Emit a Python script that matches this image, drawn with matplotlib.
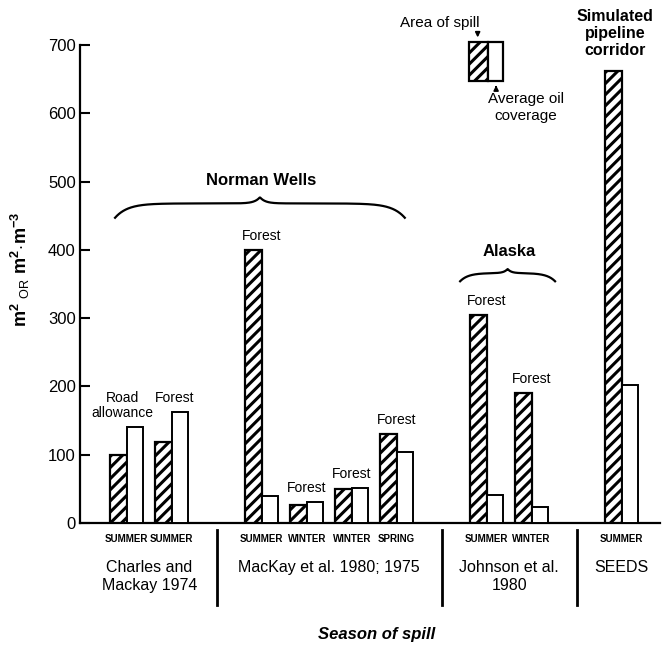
import matplotlib
matplotlib.use("Agg")
import matplotlib.pyplot as plt
from matplotlib.patches import Rectangle
import numpy as np

# Oil spill area vs. average oil coverage, by study and season
groups = ["Charles and\nMackay 1974", "MacKay et al. 1980; 1975", "Johnson et al.\n1980", "SEEDS"]
seasons = [["SUMMER", "SUMMER"],
           ["SUMMER", "WINTER", "WINTER", "SPRING"],
           ["SUMMER", "WINTER"],
           ["SUMMER"]]
spill_area = [100, 119, 400, 26, 50, 131, 304, 190, 662]
oil_coverage = [141, 163, 40, 31, 51, 104, 41, 24, 202]
site_notes = ["Road\nallowance", "Forest", "Forest", "Forest", "Forest", "Forest",
              "Forest", "Forest", ""]
yticks = [0, 100, 200, 300, 400, 500, 600, 700]

plt.rcParams['font.family'] = ['Liberation Sans', 'DejaVu Sans']
plt.rcParams['mathtext.fontset'] = 'custom'
plt.rcParams['mathtext.rm'] = 'Liberation Sans'
plt.rcParams['mathtext.bf'] = 'Liberation Sans:bold'
plt.rcParams['hatch.linewidth'] = 2.2

# pair positions, one empty slot between studies
pos = []
bounds = []
x = 0
for g, s in enumerate(seasons):
    for _ in s:
        pos.append(x)
        x += 1
    bounds.append(x)
    x += 1
pos = np.array(pos)
season_labels = [s for grp in seasons for s in grp]

fig = plt.figure(figsize=(6.62, 6.54), dpi=100)
ax = fig.add_axes([0.1208, 0.2003, 0.876, 0.7309])

w = 0.367
ax.bar(pos - w / 2, spill_area, w, color='white', edgecolor='black', hatch='///',
       linewidth=1.6, zorder=3)
ax.bar(pos + w / 2, oil_coverage, w, color='white', edgecolor='black',
       linewidth=1.4, zorder=3)

# site notes above each pair (first two nudged apart, as in the original)
nudge = [-3, 2, 0, 0, 0, 0, 0, 0, 0]
for p, a, c, note, dx in zip(pos, spill_area, oil_coverage, site_notes, nudge):
    if note:
        ax.annotate(note, (p, max(a, c)), xytext=(dx, 5), textcoords='offset points',
                    ha='center', va='bottom', fontsize=10, linespacing=1.05)

ax.set_xlim(-1.04, 11.85)
ax.set_ylim(0, 700)
ax.set_yticks(yticks)
ax.set_xticks([])
ax.tick_params(axis='y', direction='in', length=7, width=1.5, labelsize=12, pad=3)
for side in ['top', 'right']:
    ax.spines[side].set_visible(False)
ax.spines['left'].set_linewidth(1.6)
ax.spines['bottom'].set_linewidth(1.6)

ax.set_ylabel(r'$\mathbf{m^2}$ $_{\mathrm{OR}}$ $\mathbf{m^2\!\cdot\! m^{-3}}$', fontsize=13)
ax.yaxis.set_label_coords(-0.082, 0.53)

# season labels, study names and separators below the axis
tr = ax.get_xaxis_transform()
for p, s in zip(pos, season_labels):
    ax.text(p, -0.034, s, transform=tr, ha='center', va='center', fontsize=7,
            fontweight='bold')
start = 0
for g, name in enumerate(groups):
    idx = range(start, start + len(seasons[g]))
    mid = np.mean(pos[list(idx)])
    ax.text(mid, -0.078, name, transform=tr, ha='center', va='top', fontsize=11.5,
            linespacing=1.25)
    start += len(seasons[g])
for b in bounds[:-1]:
    ax.plot([b, b], [-0.015, -0.172], transform=tr, color='black', lw=2, clip_on=False)

ax.text(0.512, -0.234, 'Season of spill', transform=ax.transAxes, ha='center',
        va='center', fontsize=12, fontweight='bold', fontstyle='italic')


def draw_brace(x0, x1, y, droop, rise, wend, wtip):
    xs = np.linspace(x0, x1, 600)
    xm = (x0 + x1) / 2
    d = np.abs(xs - xm)
    half = (x1 - x0) / 2
    ys = y - droop * np.exp(-(half - d) / wend) + rise * np.exp(-d / wtip)
    ax.plot(xs, ys, color='black', lw=1.6, clip_on=False, zorder=4)


draw_brace(-0.26, 6.18, 468, 21, 9, 0.28, 0.12)
ax.text(2.99, 502, 'Norman Wells', ha='center', va='center', fontsize=12,
        fontweight='bold')
draw_brace(7.41, 9.52, 366, 12, 6, 0.18, 0.08)
ax.text(8.5, 397, 'Alaska', ha='center', va='center', fontsize=12, fontweight='bold')

ax.text(10.85, 681, 'Simulated\npipeline\ncorridor', ha='center', va='bottom',
        fontsize=11.5, fontweight='bold', linespacing=1.15)

# key
ax.add_patch(Rectangle((7.61, 647), 0.41, 58, facecolor='white', edgecolor='black',
                       hatch='///', lw=1.6, clip_on=False))
ax.add_patch(Rectangle((8.02, 647), 0.35, 58, facecolor='white', edgecolor='black',
                       lw=1.6, clip_on=False))
ax.annotate('', xy=(7.80, 707), xytext=(7.80, 722),
            arrowprops=dict(arrowstyle='-|>', color='black', lw=1.2, mutation_scale=7),
            annotation_clip=False)
ax.annotate('', xy=(8.21, 645), xytext=(8.21, 634),
            arrowprops=dict(arrowstyle='-|>', color='black', lw=1.2, mutation_scale=7),
            annotation_clip=False)
ax.text(6.96, 732, 'Area of spill', ha='center', va='center', fontsize=11)
ax.text(8.87, 631, 'Average oil\ncoverage', ha='center', va='top', fontsize=11,
        linespacing=1.3)

fig.savefig('out.png', dpi=100)
